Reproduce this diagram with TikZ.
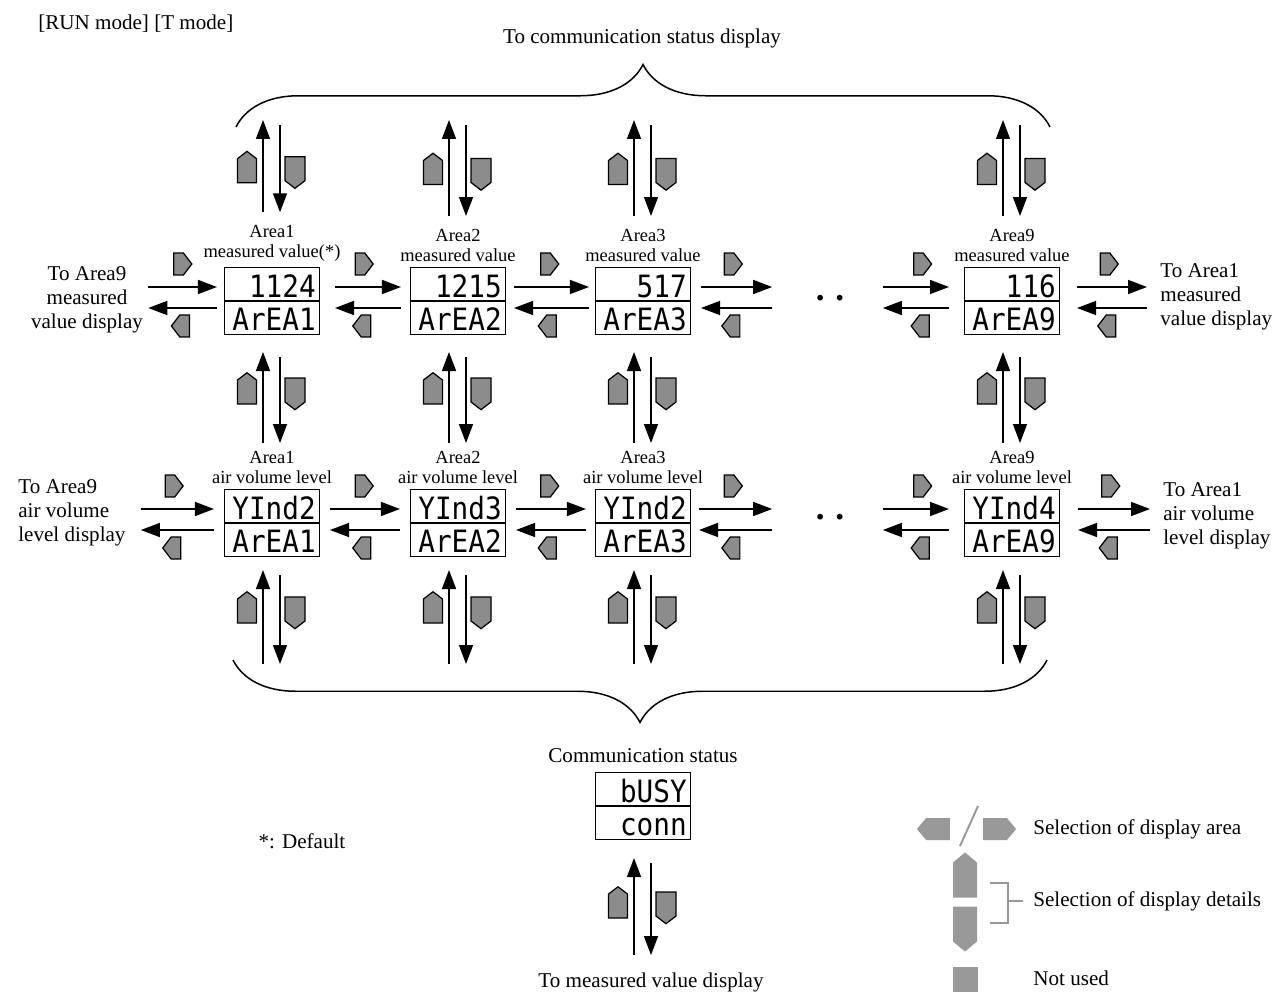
\documentclass[tikz,border=0pt]{standalone}
\usepackage{fontspec}
\setmainfont{Liberation Serif}
\newfontfamily\segfont[FakeStretch=0.9]{DejaVu Sans Mono}
\usepackage{tikz}
\usetikzlibrary{shapes.symbols,arrows.meta,positioning,calc,decorations.pathreplacing}

\begin{document}
\begin{tikzpicture}[x=0.02cm, y=0.02cm,
    disp/.style={rectangle, draw, line width=0.6pt, minimum width=1.9cm,
        minimum height=1.34cm, inner sep=0pt},
    seg/.style={font=\fontsize{17.5}{17.5}\segfont, inner sep=0pt, anchor=base east},
    lbl/.style={font=\fontsize{10.5}{11.3}\selectfont, align=center, inner sep=1pt},
    txt/.style={font=\fontsize{12}{13.6}\selectfont, inner sep=0pt},
    dots/.style={font=\fontsize{20}{20}\selectfont\bfseries, minimum width=2.1cm, inner sep=0pt},
    arr/.style={-{Triangle[length=0.38cm, width=0.28cm]}, line width=0.85pt},
    btn/.style={signal, draw, line width=0.7pt, fill=black!45, inner sep=0pt,
        signal pointer angle=105},
    btnR/.style={btn, signal to=east, minimum width=0.36cm, minimum height=0.44cm},
    btnL/.style={btn, signal to=west, minimum width=0.36cm, minimum height=0.44cm},
    btnU/.style={btn, signal to=north, minimum width=0.38cm, minimum height=0.48cm},
    btnD/.style={btn, signal to=south, minimum width=0.40cm, minimum height=0.48cm},
    lgbtn/.style={signal, draw=none, fill=black!40, inner sep=0pt, signal pointer angle=100},
    lgline/.style={draw=black!40, line width=1.1pt},
    brc/.style={decorate, decoration={brace, amplitude=1.25cm}, line width=0.85pt}
]
    \useasboundingbox (0,0) rectangle (1274,-993);

    \node[txt, anchor=west] (mode) at (38,-24) {[RUN mode] [T mode]};
    \node[txt] (tcs) at (642,-38) {To communication status display};

    % Area displays, measured value row and air volume row
    \foreach \i/\cx/\val/\wind/\lab in {1/272/1124/YInd2/measured value(*),
        2/458/1215/YInd3/measured value, 3/643/517/YInd2/measured value,
        9/1012/116/YInd4/measured value} {
        \node[disp] (mv\i) at (\cx,-301) {};
        \draw[line width=0.6pt] (mv\i.west) -- (mv\i.east);
        \node[seg] (mvu\i) at ($(mv\i.east)+(-4,4)$) {\val};
        \node[seg] (mvl\i) at ($(mv\i.east)+(-4,-29)$) {ArEA\i};
        \node[lbl, above=2pt of mv\i] (lmv\i) {Area\i\\\lab};

        \node[disp] (av\i) at (\cx,-523) {};
        \draw[line width=0.6pt] (av\i.west) -- (av\i.east);
        \node[seg] (avu\i) at ($(av\i.east)+(-4,4)$) {\wind};
        \node[seg] (avl\i) at ($(av\i.east)+(-4,-29)$) {ArEA\i};
        \node[lbl, above=2pt of av\i] (lav\i) {Area\i\\air volume level};

        \coordinate (ct\i) at (\cx,-118);
        \coordinate (cb\i) at (\cx,-665);
    }

    % Side texts and gaps
    \node[txt, align=center] (tl1) at (87,-300) {To Area9\\measured\\value display};
    \node[txt, align=left, anchor=west] (tr1) at (1160,-297) {To Area1\\measured\\value display};
    \node[txt, align=left, anchor=west] (tl2) at (18,-513) {To Area9\\air volume\\level display};
    \node[txt, align=left, anchor=west] (tr2) at (1163,-516) {To Area1\\air volume\\level display};
    \node[dots] (dt1) at (830,-298) {.\hspace{6pt}.};
    \node[dots] (dt2) at (830,-517) {.\hspace{6pt}.};

    % Left/right selection
    \foreach \a/\b/\s/\t/\y/\n in {tl1/mv1/0.1cm/0.14cm/-301/ha, mv1/mv2/0.3cm/0.18cm/-301/hb,
        mv2/mv3/0.16cm/0.12cm/-301/hc, mv3/dt1/0.2cm/0.1cm/-301/hd,
        dt1/mv9/0.0cm/0.3cm/-301/he, mv9/tr1/0.34cm/0.26cm/-301/hf,
        tl2/av1/0.3cm/0.2cm/-523/hg, av1/av2/0.2cm/0.2cm/-523/hh,
        av2/av3/0.2cm/0.18cm/-523/hi, av3/dt2/0.16cm/0.1cm/-523/hj,
        dt2/av9/0.0cm/0.3cm/-523/hk, av9/tr2/0.36cm/0.26cm/-523/hl} {
        \draw[arr, shorten <=\s, shorten >=\t] ($(\a.east |- 0,\y)+(0,14)$) -- ($(\b.west |- 0,\y)+(0,14)$);
        \draw[arr, shorten <=\t, shorten >=\s] ($(\b.west |- 0,\y)+(0,-7)$) -- ($(\a.east |- 0,\y)+(0,-7)$);
        \coordinate (\n-m) at ($(\a.east |- 0,\y)!0.5!(\b.west |- 0,\y)$);
        \node[btnR] (\n-r) at ($(\n-m)+(-5,37)$) {};
        \node[btnL] (\n-l) at ($(\n-m)+(1,-25)$) {};
    }

    % Braces
    \draw[brc] (236,-127) -- (1050,-127);
    \draw[brc] (1047,-660) -- (233,-660);

    % Communication status
    \node[disp] (cs) at (643,-806) {};
    \draw[line width=0.6pt] (cs.west) -- (cs.east);
    \node[seg] (csu) at ($(cs.east)+(-4,4)$) {bUSY};
    \node[seg] (csl) at ($(cs.east)+(-4,-29)$) {conn};
    \node[txt, above=5pt of cs] (lcs) {Communication status};
    \node[txt] (tmv) at (651,-982) {To measured value display};
    \coordinate (tmvn) at (tmv.north -| cs.south);
    \node[txt] (dflt) at (302,-841) {*: Default};

    % Up/down selection
    \foreach \a/\b/\s/\t/\n in {ct1/lmv1.north/0.04cm/0.22cm/va1, ct2/lmv2.north/0.04cm/0.22cm/va2,
        ct3/lmv3.north/0.04cm/0.22cm/va3, ct9/lmv9.north/0.04cm/0.22cm/va9,
        mv1.south/lav1.north/0.34cm/0.12cm/vb1, mv2.south/lav2.north/0.34cm/0.12cm/vb2,
        mv3.south/lav3.north/0.34cm/0.12cm/vb3, mv9.south/lav9.north/0.34cm/0.12cm/vb9,
        av1.south/cb1/0.26cm/0.02cm/vc1, av2.south/cb2/0.26cm/0.02cm/vc2,
        av3.south/cb3/0.26cm/0.02cm/vc3, av9.south/cb9/0.26cm/0.02cm/vc9,
        cs.south/tmvn/0.36cm/0.34cm/vd} {
        \draw[arr, shorten <=\t, shorten >=\s] ($(\b)+(-9,0)$) -- ($(\a)+(-9,0)$);
        \draw[arr, shorten <=\s+0.1cm, shorten >=\t] ($(\a)+(8,0)$) -- ($(\b)+(8,0)$);
        \coordinate (\n-m) at ($(\a)!0.5!(\b)$);
        \node[btnU] (\n-u) at ($(\n-m)+(-25,0)$) {};
        \node[btnD] (\n-d) at ($(\n-m)+(23,2)$) {};
    }

    % Legend
    \node[lgbtn, signal to=west, minimum width=0.66cm, minimum height=0.44cm] (lgl) at (938,-829) {};
    \node[lgbtn, signal to=east, minimum width=0.66cm, minimum height=0.44cm] (lgr) at (995,-829) {};
    \draw[lgline] (960,-846) -- (978,-806);
    \node[lgbtn, signal to=north, minimum width=0.48cm, minimum height=0.7cm] (lgu) at (965,-880) {};
    \node[lgbtn, signal to=south, minimum width=0.48cm, minimum height=0.7cm] (lgd) at (965,-924) {};
    \node[fill=black!40, minimum size=0.5cm, inner sep=0pt] (lgn) at (965,-979) {};
    \node[txt, anchor=west] (lga) at (1033,-829) {Selection of display area};
    \node[txt, anchor=west] (lgb) at (1033,-901) {Selection of display details};
    \node[txt, anchor=west] (lgc) at (1033,-978) {Not used};
    \draw[lgline] (990,-883) -| (1008,-923) -- (990,-923);
    \draw[lgline] (lgb.west -| 1008,0) -- ([xshift=-0.2cm]lgb.west);
\end{tikzpicture}
\end{document}
